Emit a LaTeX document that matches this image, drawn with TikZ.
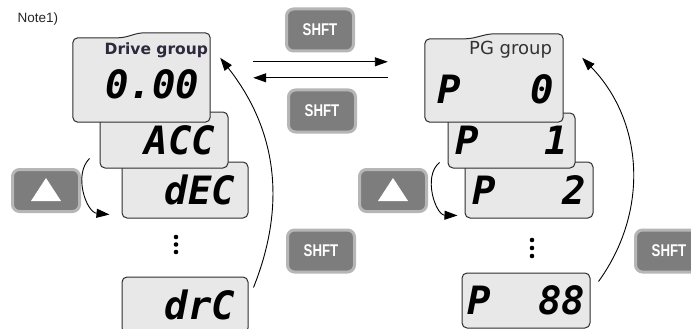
\documentclass[tikz,border=0pt]{standalone}
\usepackage{fontspec}
\setmainfont{Liberation Sans}
\newfontfamily\segfont{DejaVu Sans Mono}
\newfontfamily\lblfont{DejaVu Sans}
\usetikzlibrary{arrows.meta}

\definecolor{lcdfill}{RGB}{232,232,232}
\definecolor{lcdedge}{RGB}{45,45,45}
\definecolor{keyfill}{RGB}{125,125,125}
\definecolor{keyrim}{RGB}{182,182,182}
\definecolor{lbltext}{RGB}{45,40,60}

\tikzset{
    lcd/.style={draw=lcdedge, fill=lcdfill, line width=1pt, rounded corners=5pt,
        inner ysep=0pt, minimum height=56pt,
        font=\segfont\bfseries\itshape\fontsize{39}{39}\selectfont},
    word/.style={lcd, inner xsep=13pt, text width=100pt, align=right},
    par/.style={lcd, inner xsep=7pt, text width=114pt, align=left},
    panel/.style={inner sep=0pt, draw=none},
    outline/.style={draw=lcdedge, fill=lcdfill, line width=1pt, rounded corners=5pt},
    key/.style={fill=keyfill, draw=keyrim, line width=3pt, rounded corners=7pt,
        minimum width=67pt, minimum height=42pt, inner sep=0pt},
    shft/.style={key, text=white, font=\bfseries\fontsize{17}{17}\selectfont},
    flow/.style={-{Stealth[length=13pt,width=9pt,inset=0pt]}, line width=0.9pt},
}

\begin{document}
\begin{tikzpicture}[x=1pt, y=-1pt]
    \useasboundingbox (0,0) rectangle (691,329);

    \node[anchor=base west, font=\fontsize{13.5}{13.5}\selectfont, text=black!85] (note) at (14,23) {Note1)};

    % drive group
    \node[word] (drc) at (185,305) {drC};
    \node[word] (dec) at (185,190) {dEC};
    \node[word, text width=102pt] (acc) at (164,140) {ACC};
    \node[panel, minimum width=137pt, minimum height=84pt] (drive) at (141.5,80) {};
    \draw[outline] (drive.south west) -- (drive.north west) -- ([xshift=50pt]drive.north west)
        -- ([shift={(67pt,5pt)}]drive.north west) -- ([yshift=5pt]drive.north east)
        -- (drive.south east) -- cycle;
    \node[anchor=base east, inner sep=0pt, text=lbltext, font=\lblfont\bfseries\fontsize{15.5}{15.5}\selectfont]
        (drivelbl) at ([shift={(-2pt,-17pt)}]drive.north east) {Drive group};
    \node[anchor=east, inner sep=0pt, font=\segfont\bfseries\itshape\fontsize{39}{39}\selectfont]
        (drivenum) at ([shift={(-11pt,-47pt)}]drive.north east) {0.00};
    \foreach \dy in {0,7.5,15}
        \fill (176,237+\dy) circle (2.3pt);

    % PG group
    \node[par, inner xsep=5pt, text width=118pt, minimum height=55pt] (p88) at (526,300.5) {P\hfill 88};
    \node[par] (p2) at (529,190) {P\hfill 2};
    \node[par, text width=113pt, minimum height=55pt] (p1) at (511.5,140.5) {P\hfill 1};
    \node[panel, minimum width=138pt, minimum height=83pt] (pg) at (494,80.5) {};
    \draw[outline] (pg.south west) -- (pg.north west) -- ([xshift=45pt]pg.north west)
        -- ([shift={(65pt,5pt)}]pg.north west) -- ([yshift=5pt]pg.north east)
        -- (pg.south east) -- cycle;
    \node[anchor=base east, inner sep=0pt, text=black!80, font=\lblfont\fontsize{18}{18}\selectfont]
        (pglbl) at ([shift={(-11pt,-16pt)}]pg.north east) {PG group};
    \node[anchor=west, inner sep=0pt, text width=117pt, align=left,
        font=\segfont\bfseries\itshape\fontsize{39}{39}\selectfont]
        (pgnum) at ([shift={(12pt,-51pt)}]pg.north west) {P\hfill 0};
    \foreach \dy in {0,8,16}
        \fill (532,240+\dy) circle (2.3pt);

    % keys
    \node[shft] (shft1) at (320,30) {\scalebox{0.78}[1]{SHFT}};
    \node[shft] (shft2) at (322,111) {\scalebox{0.78}[1]{SHFT}};
    \node[shft] (shft3) at (321,251) {\scalebox{0.78}[1]{SHFT}};
    \node[shft] (shft4) at (669,251) {\scalebox{0.78}[1]{SHFT}};
    \node[key] (upl) at (46,190.5) {};
    \node[key] (upr) at (393,190.5) {};
    \fill[white] ([shift={(-15pt,-10.5pt)}]upl.center) -- ([shift={(15pt,-10.5pt)}]upl.center)
        -- ([shift={(0pt,12.5pt)}]upl.center) -- cycle;
    \fill[white] ([shift={(-15pt,-10.5pt)}]upr.center) -- ([shift={(15pt,-10.5pt)}]upr.center)
        -- ([shift={(0pt,12.5pt)}]upr.center) -- cycle;

    % arrows
    \draw[flow] ([shift={(43pt,-24pt)}]drive.north east) -- ([shift={(-37pt,-23pt)}]pg.north west);
    \draw[flow] ([shift={(-37pt,-39pt)}]pg.north west) -- ([shift={(43pt,-40pt)}]drive.north east);
    \draw[flow] ([shift={(-10pt,10pt)}]acc.south west) to[bend right=65] ([shift={(-12pt,4pt)}]dec.south west);
    \draw[flow] ([shift={(-8pt,6pt)}]p1.south west) to[bend right=70] ([shift={(-7pt,3pt)}]p2.south west);
    \draw[flow] ([shift={(5pt,-11pt)}]drc.north east) to[bend right=30] ([shift={(10pt,-20pt)}]drive.north east);
    \draw[flow] ([shift={(8pt,-9pt)}]p88.north east) to[bend right=40] ([shift={(19pt,-19pt)}]pg.north east);
\end{tikzpicture}
\end{document}
